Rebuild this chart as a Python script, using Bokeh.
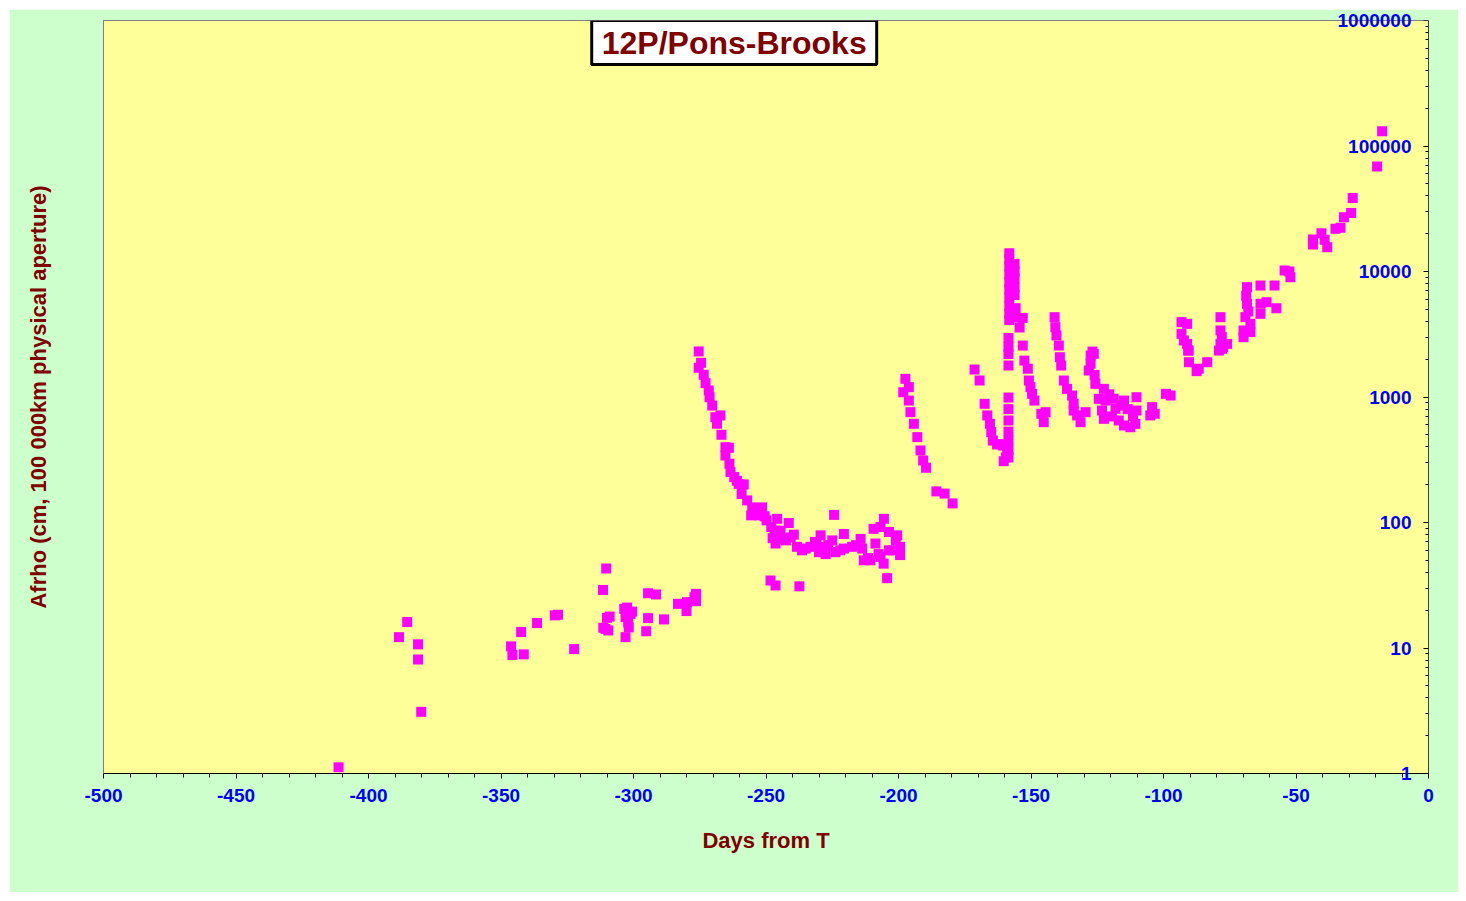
from bokeh.plotting import figure
from bokeh.models import (ColumnDataSource, LogAxis, FixedTicker, Label,
                          CustomJSTickFormatter, Range1d)
from bokeh.embed import file_html
from bokeh.resources import INLINE

# ---- data (days from perihelion T, Afrho in cm) ----
days = [
    -411.3, -388.5, -385.4, -381.3, -381.3, -380.1,
    -346.2, -345.7, -341.4, -342.4, -336.4, -329.7, -328.5, -322.4,
    -311.5, -310.3, -310.0, -310.6, -311.4, -309.5, -309.0,
    -302.4, -303.0, -301.1, -301.8, -303.0, -302.0, -300.5, -303.5,
    -294.5, -291.5, -294.5, -295.2, -288.5, -283.2, -280.0, -279.8, -276.4, -276.4, -277.0,
    -275.4, -274.5, -275.4, -273.5, -272.8, -271.6, -271.3, -270.3, -269.1, -267.2,
    -268.5, -266.8, -265.3, -264.0, -265.3, -263.8, -263.4, -260.3, -258.4, -259.2,
    -257.1, -255.2, -251.5, -255.6, -252.7, -249.8, -245.8, -246.7, -244.5, -241.4,
    -246.4, -243.9, -240.7, -238.3, -236.4, -233.2, -229.4, -228.2, -227.5, -225.0,
    -223.8, -224.3, -220.6, -220.6, -217.5, -214.3, -213.7, -213.1, -210.6, -209.4,
    -205.5, -206.8, -203.6, -200.5, -208.7, -203.6, -199.4, -206.8, -199.4, -205.6,
    -204.3, -248.3, -246.4, -237.4,
    -262.0, -261.0, -254.0, -250.5, -248.0, -247.5, -242.5, -239.5, -235.0, -231.0,
    -230.0, -226.5, -222.0, -216.0, -211.5, -207.5, -202.0, -201.0, -231.5,
    -197.4, -198.2, -196.1, -196.1, -195.5, -194.2, -192.9, -191.7, -190.7, -189.6,
    -185.7, -182.6, -179.6,
    -171.3, -169.4, -167.5, -166.5, -165.5, -165.0, -164.4, -162.8, -160.3, -161.5,
    -158.5, -158.5, -158.5, -158.5, -158.5, -158.5, -158.5, -159.0, -159.5, -160.5,
    -158.5, -158.5, -158.5, -158.5,
    -158.2, -158.2, -158.2, -158.2, -158.2, -158.2, -158.2, -158.2, -158.2, -158.2,
    -156.2, -156.2, -156.2, -156.2, -156.2, -155.8, -155.8,
    -154.3, -153.1, -153.1, -152.5, -151.2, -150.8, -150.2, -149.6, -148.7, -146.1,
    -145.2, -144.5,
    -141.1, -140.8, -140.4, -139.5, -139.1, -138.6, -137.6, -136.4, -134.5, -133.9,
    -133.9, -132.6, -131.3, -129.4,
    -127.5, -127.5, -128.2, -126.3, -125.7, -124.4, -122.5, -121.9, -123.2, -122.5,
    -118.8, -118.1, -116.2, -114.9, -116.9, -114.9, -112.5, -110.2, -110.2, -110.6,
    -126.8, -126.0, -120.5, -119.5, -113.5, -111.5,
    -104.3, -105.0, -103.3, -99.1, -97.3,
    -93.2, -93.2, -92.3, -90.7, -90.4, -87.5, -91.1, -91.1, -90.5, -86.7, -83.5,
    -78.5, -78.5, -78.5, -77.9, -76.0, -79.1, -78.0, -77.5,
    -68.5, -68.5, -69.1, -69.8, -69.8, -67.2, -67.2, -68.8, -68.0,
    -63.4, -63.4, -63.4, -61.1, -58.1, -57.4, -54.3, -52.1, -52.5,
    -43.6, -43.6, -40.4, -39.2, -38.2, -35.1, -33.2, -31.9, -29.2, -28.6,
    -19.4, -17.5,
]
afrho = [
    1.12, 12.2, 16.1, 10.7, 8.1, 3.1,
    10.3, 8.8, 8.9, 13.4, 15.8, 18.2, 18.4, 9.8,
    29, 43, 17.4, 14.2, 14.5, 13.8, 17.8,
    21, 17.6, 18.7, 14.6, 12.2, 16, 19.5, 20.5,
    27.3, 26.7, 17.3, 13.6, 16.9, 22.5, 19.7, 23.2, 27, 23.6, 25.4,
    2306, 1872, 1710, 1503, 1289, 1127, 996, 855, 690, 713,
    612, 500, 398, 394, 342, 294, 252, 203, 201, 169,
    150, 132, 132, 114, 114, 104, 107, 86, 86, 99,
    68, 74, 76, 64, 60, 64, 79, 64, 56, 72,
    58, 115, 81, 62, 64, 74, 62, 50, 50, 89,
    107, 92, 84, 79, 68, 60, 64, 53, 55, 47,
    36, 34.5, 31.5, 31,
    230, 215, 122, 112, 92, 75, 72, 80, 62, 68,
    58, 66, 60, 66, 52, 56, 60, 72, 70,
    1396, 1091, 1197, 937, 757, 612, 479, 375, 312, 273,
    177, 170, 142,
    1656, 1353, 883, 713, 612, 525, 450, 419, 308, 420,
    990, 800, 650, 530, 450, 380, 330, 360, 330, 410,
    1782, 2950, 2500, 2200,
    14000, 12500, 11000, 9500, 8200, 7200, 6200, 5300, 4600, 4100,
    11500, 10000, 8800, 7500, 6500, 5100, 4300,
    3580, 4270, 2570, 1950, 1680, 1353, 1197, 1060, 937, 735,
    630, 757,
    4325, 3600, 3090, 2570, 2075, 1782, 1353, 1161, 1028, 883,
    780, 713, 630, 757,
    2140, 1840, 1626, 2208, 1274, 968, 1161, 937, 780, 670,
    968, 805, 855, 937, 650, 593, 574, 996, 780, 611,
    2300, 1500, 1050, 700, 800, 700,
    830, 713, 735, 1060, 1028,
    3950, 3187, 2820, 2348, 1893, 1607, 3830, 2650, 2345, 1680, 1893,
    4325, 3390, 2650, 2420, 2650, 2345, 3000, 2500,
    7500, 5530, 4330, 3390, 2995, 3830, 3290, 6400, 4800,
    7730, 5530, 4600, 5690, 7730, 5100, 10190, 9010, 10000,
    16400, 18000, 20200, 17900, 15600, 21900, 22300, 27100, 29200, 38600,
    68700, 131000,
]

x_ticks = [-500, -450, -400, -350, -300, -250, -200, -150, -100, -50, 0]
x_minor = list(range(-500, 1, 10))
y_ticks = [1, 10, 100, 1000, 10000, 100000, 1000000]
y_tick_labels = ["1", "10", "100", "1000", "10000", "100000", "1000000"]
y_minor = [m * 10 ** e for e in range(0, 6) for m in range(2, 10)]

title_text = "12P/Pons-Brooks"
x_label = "Days from T"
y_label = "Afrho (cm, 100 000km physical aperture)"

FONT = "Liberation Sans"
DARKRED = "#800000"
BLUE = "#0000FF"

p = figure(width=1449, height=883,
           x_range=Range1d(-500, 0), y_range=Range1d(1, 1000000),
           y_axis_type="log", y_axis_location=None,
           output_backend="svg", toolbar_location=None,
           min_border_left=94, min_border_right=30,
           min_border_top=11, min_border_bottom=119)
p.margin = (9, 0, 0, 9)

p.border_fill_color = "#CCFFCC"
p.background_fill_color = "#FFFF99"
p.outline_line_color = "#808080"
p.outline_line_width = 1
p.xgrid.visible = False
p.ygrid.visible = False

empty = CustomJSTickFormatter(code="return ''")

# bottom axis
xa = p.xaxis[0]
xa.ticker = FixedTicker(ticks=x_ticks, minor_ticks=x_minor)
xa.formatter = CustomJSTickFormatter(code="return String(tick)")
xa.axis_line_color = "black"
xa.major_tick_line_color = "black"
xa.minor_tick_line_color = "black"
xa.major_tick_in = 0
xa.major_tick_out = 5
xa.minor_tick_in = 0
xa.minor_tick_out = 4
xa.major_label_standoff = 10
xa.major_label_text_font = FONT
xa.major_label_text_font_style = "bold"
xa.major_label_text_font_size = "19px"
xa.major_label_text_color = BLUE
xa.axis_label = x_label
xa.axis_label_text_font = FONT
xa.axis_label_text_font_style = "bold"
xa.axis_label_text_font_size = "22px"
xa.axis_label_text_color = DARKRED
xa.axis_label_standoff = 23

# left axis: only the title
la = LogAxis(ticker=FixedTicker(ticks=y_ticks), formatter=empty,
             axis_line_color="#808080", major_tick_line_color=None,
             minor_tick_line_color=None, major_label_text_font_size="1px",
             axis_label=y_label, axis_label_text_font=FONT,
             axis_label_text_font_style="bold", axis_label_text_font_size="22px",
             axis_label_text_color=DARKRED, axis_label_standoff=47)
p.add_layout(la, "left")

# right edge line with inward ticks (x = 0)
ra = LogAxis(ticker=FixedTicker(ticks=y_ticks, minor_ticks=y_minor),
             fixed_location=p.x_range.end, formatter=empty,
             axis_line_color="black", major_tick_line_color="black",
             minor_tick_line_color="black",
             major_tick_in=0, major_tick_out=5, minor_tick_in=0, minor_tick_out=3,
             major_label_text_font_size="1px")
p.add_layout(ra, "left")

# value labels: an outer side axis whose labels are pulled across to the right edge
lb = LogAxis(ticker=FixedTicker(ticks=y_ticks),
             major_label_overrides={float(v): t for v, t in zip(y_ticks, y_tick_labels)},
             axis_line_color=None, major_tick_line_color=None, minor_tick_line_color=None,
             major_tick_in=0, major_tick_out=0, minor_tick_in=0, minor_tick_out=0,
             major_label_standoff=-1389,
             major_label_text_font=FONT, major_label_text_font_style="bold",
             major_label_text_font_size="19px", major_label_text_color=BLUE)
p.add_layout(lb, "left")

src = ColumnDataSource(dict(x=days, y=afrho))
p.scatter("x", "y", source=src, marker="square", size=10,
          fill_color="#FF00FF", line_color=None)

p.add_layout(Label(x=-262, y=1000000, text=title_text, text_align="center",
                   text_baseline="top", y_offset=0,
                   text_font=FONT, text_font_style="bold", text_font_size="32px",
                   text_color=DARKRED, background_fill_color="white",
                   border_line_color="black", border_line_width=3,
                   padding=dict(left=10, right=10, top=4, bottom=4)))

open("out.html", "w").write(file_html(p, INLINE))
